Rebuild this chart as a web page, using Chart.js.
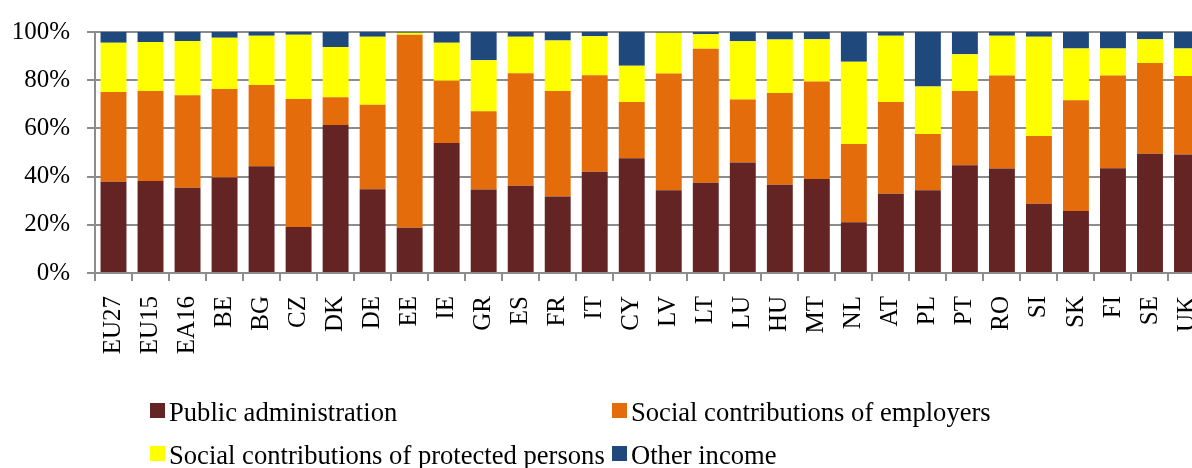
<!DOCTYPE html>
<html>
<head>
<meta charset="utf-8">
<script src="https://cdn.jsdelivr.net/npm/chart.js@4/dist/chart.umd.min.js"></script>
<style>
  html, body { margin: 0; padding: 0; background: #fff; overflow: hidden; width: 1192px; height: 468px; }
  .chart-box { position: absolute; left: 0; top: 0; width: 1232px; height: 468px; }
</style>
</head>
<body>
<div class="chart-box"><canvas id="fundingChart"></canvas></div>
<script>
/* stacked shares of funding sources per country (%) */

const COUNTRIES = ["EU27", "EU15", "EA16", "BE", "BG", "CZ", "DK", "DE", "EE", "IE", "GR", "ES", "FR", "IT", "CY",
  "LV", "LT", "LU", "HU", "MT", "NL", "AT", "PL", "PT", "RO", "SI", "SK", "FI", "SE", "UK"];

const PUBLIC_ADMIN = [37.9, 38.2, 35.4, 39.6, 44.3, 19.1, 61.4, 34.8, 18.8, 53.9, 34.6, 36.2, 31.7, 42.0, 47.6,
  34.3, 37.4, 45.9, 36.6, 39.0, 21.1, 32.9, 34.3, 44.7, 43.4, 28.7, 25.7, 43.5, 49.5, 49.2];
const EMPLOYERS = [37.2, 37.3, 38.4, 36.7, 33.7, 53.1, 11.5, 35.0, 80.1, 25.9, 32.5, 46.7, 43.8, 40.1, 23.4,
  48.5, 55.7, 26.1, 38.1, 40.5, 32.4, 38.1, 23.4, 30.8, 38.6, 28.1, 46.0, 38.5, 37.6, 32.5];
const PROTECTED = [20.4, 20.4, 22.5, 21.3, 20.4, 26.7, 20.9, 28.2, 0.8, 15.7, 21.2, 15.1, 21.0, 16.1, 15.0,
  16.9, 6.0, 24.2, 22.2, 17.5, 34.2, 27.4, 19.7, 15.3, 16.4, 41.2, 21.5, 11.2, 9.9, 11.5];
const OTHER = [4.5, 4.1, 3.7, 2.4, 1.6, 1.1, 6.2, 2.0, 0.3, 4.5, 11.7, 2.0, 3.5, 1.8, 14.0,
  0.3, 0.9, 3.8, 3.1, 3.0, 12.3, 1.6, 22.6, 9.2, 1.6, 2.0, 6.8, 6.8, 3.0, 6.8];

const SERIES = [
  { label: "Public administration", data: PUBLIC_ADMIN, color: "#632423" },
  { label: "Social contributions of employers", data: EMPLOYERS, color: "#e46c0a" },
  { label: "Social contributions of protected persons", data: PROTECTED, color: "#ffff00" },
  { label: "Other income", data: OTHER, color: "#1f497d" },
];

const GRID_GREY = "#8c8c8c";
const SERIF = "'Liberation Serif', 'Times New Roman', serif";

// two-column legend under the axis, drawn on the canvas
const gridLegend = {
  id: "gridLegend",
  afterDraw(chart) {
    const ctx = chart.ctx;
    ctx.save();
    ctx.font = `26.6px ${SERIF}`;
    ctx.textBaseline = "alphabetic";
    chart.data.datasets.forEach((ds, i) => {
      const x = 150 + (i % 2) * 462;
      const y = 403 + Math.floor(i / 2) * 43;
      ctx.fillStyle = ds.backgroundColor;
      ctx.fillRect(x, y, 15, 15);
      ctx.fillStyle = "#000";
      ctx.fillText(ds.label, x + 19, y + 18);
    });
    ctx.restore();
  },
};

function renderChart() {
  new Chart(document.getElementById("fundingChart"), {
    type: "bar",
    data: {
      labels: COUNTRIES,
      datasets: SERIES.map((s) => ({
        label: s.label,
        data: s.data,
        backgroundColor: s.color,
        borderWidth: 0,
        barPercentage: 0.7,
        categoryPercentage: 1,
      })),
    },
    options: {
      responsive: true,
      maintainAspectRatio: false,
      animation: false,
      layout: { padding: { top: 27, right: 0, left: 0, bottom: 88 } },
      plugins: { legend: { display: false }, tooltip: { enabled: false } },
      scales: {
        x: {
          stacked: true,
          afterFit: (scale) => { scale.height = 107; },
          border: { color: GRID_GREY, width: 2 },
          grid: { drawOnChartArea: false, drawTicks: true, tickLength: 8, color: GRID_GREY, lineWidth: 2 },
          ticks: { minRotation: 90, maxRotation: 90, autoSkip: false, padding: 15, color: "#000", font: { family: SERIF, size: 25 } },
        },
        y: {
          stacked: true,
          min: 0,
          max: 100,
          afterFit: (scale) => { scale.width = 95; },
          border: { color: GRID_GREY, width: 2 },
          grid: { color: GRID_GREY, lineWidth: 2, tickLength: 8 },
          ticks: { stepSize: 20, padding: 17, color: "#000", font: { family: SERIF, size: 25 }, callback: (v) => v + "%" },
        },
      },
    },
    plugins: [gridLegend],
  });
}

document.addEventListener("DOMContentLoaded", function() {
  renderChart();
});
</script>
</body>
</html>
